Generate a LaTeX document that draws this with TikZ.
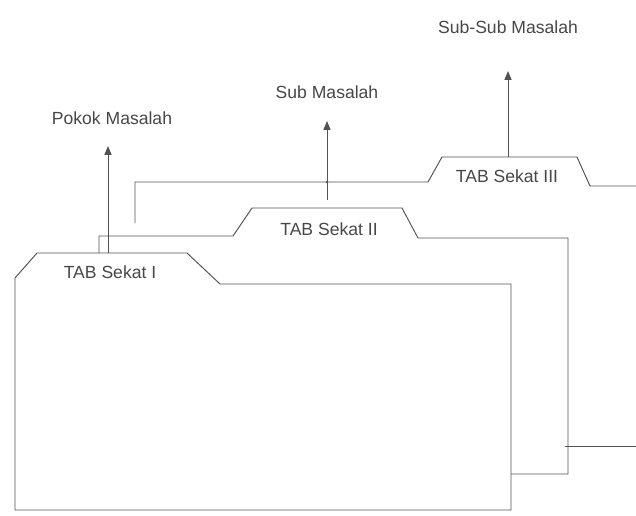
\documentclass[tikz,border=0pt]{standalone}
\usepackage{fontspec}
\setmainfont{Liberation Sans}
\usetikzlibrary{arrows.meta}

\begin{document}
\begin{tikzpicture}[x=0.02cm,y=-0.02cm,
    edge/.style={draw=black!68,line width=0.55pt},
    up/.style={edge,-{Triangle[length=5pt,width=4pt]}},
    lbl/.style={text=black!72,font=\fontsize{10}{12}\selectfont,inner sep=0pt}]
  \useasboundingbox (0,0) rectangle (636,515);
  % sekat III (paling belakang)
  \draw[edge] (135,223) -- (135,182) -- (428,182) -- (442,157) -- (577,157)
    -- (590,186) -- (636,186);
  \draw[edge] (565,446) -- (636,446);
  % sekat II
  \draw[edge] (99,253) -- (99,236) -- (233,236) -- (252,208) -- (402,208)
    -- (418,238) -- (568,238) -- (568,474) -- (511,474);
  % sekat I (depan)
  \draw[edge] (15,510) -- (15,278) -- (37,253) -- (187,253) -- (220,284)
    -- (511,284) -- (511,510) -- cycle;
  % label tab
  \node[lbl] (tabI) at (110,272) {TAB Sekat I};
  \node[lbl] (tabII) at (329,229) {TAB Sekat II};
  \node[lbl] (tabIII) at (507,176) {TAB Sekat III};
  % label masalah
  \node[lbl] (pokok) at (112,118) {Pokok Masalah};
  \node[lbl] (sub) at (327,92) {Sub Masalah};
  \node[lbl] (subsub) at (508,27) {Sub-Sub Masalah};
  % panah
  \coordinate (baseI) at (108,253);
  \coordinate (tipI) at (108,146);
  \coordinate (baseII) at (327,200);
  \coordinate (tipII) at (327,121);
  \coordinate (baseIII) at (508,157);
  \coordinate (tipIII) at (508,71);
  \draw[up] (baseI) -- (tipI);
  \draw[up] (baseII) -- (tipII);
  \draw[up] (baseIII) -- (tipIII);
  \fill[black!68] (baseII |- 0,182) circle (1.3);
\end{tikzpicture}
\end{document}
